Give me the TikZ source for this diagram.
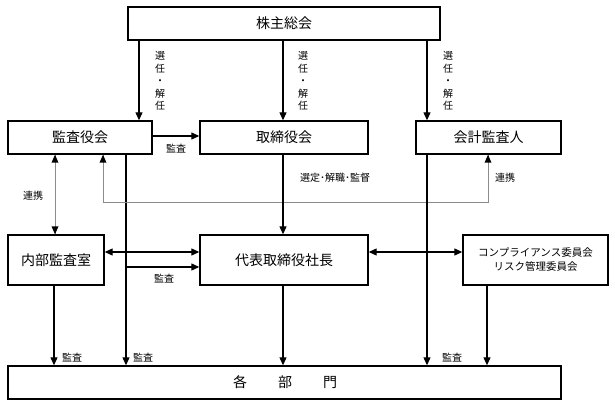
\documentclass[tikz,border=0pt]{standalone}
\usepackage{fontspec}
\setmainfont{Noto Sans CJK JP}
\usetikzlibrary{arrows.meta}
\begin{document}
\begin{tikzpicture}[x=1pt,y=-1pt,
  box/.style={draw,line width=1.4pt,inner sep=0pt,font=\fontsize{14}{16}\selectfont},
  ln/.style={line width=1.2pt},
  arr/.style={ln,-{Triangle[length=8pt,width=7pt]}},
  darr/.style={ln,{Triangle[length=8pt,width=7pt]}-{Triangle[length=8pt,width=7pt]}},
  glink/.style={line width=0.8pt,draw=black!45},
  lbl/.style={font=\fontsize{10}{12.5}\selectfont,inner sep=0pt,align=center}]
\useasboundingbox (0,0) rectangle (615,406);
% boxes
\node[box,minimum width=312pt,minimum height=33pt] (top) at (284,23.5) {株主総会};
\node[box,minimum width=144pt,minimum height=33pt] (kansa) at (80,137.5) {監査役会};
\node[box,minimum width=168pt,minimum height=33pt] (tori) at (284,137.5) {取締役会};
\node[box,minimum width=145pt,minimum height=33pt] (kaikei) at (488.5,137.5) {会計監査人};
\node[box,minimum width=96pt,minimum height=50pt] (naibu) at (56,260) {内部監査室};
\node[box,minimum width=168pt,minimum height=50pt] (ceo) at (284,260) {代表取締役社長};
\node[box,minimum width=145pt,minimum height=50pt,align=center,font=\fontsize{10.5}{14}\selectfont] (comp) at (535.5,260) {コンプライアンス委員会\\リスク管理委員会};
\node[box,minimum width=553pt,minimum height=33pt] (depts) at (284.5,382.5) {};
\node[inner sep=0pt,font=\fontsize{14}{16}\selectfont] (d1) at (240,382.5) {各};
\node[inner sep=0pt,font=\fontsize{14}{16}\selectfont] (d2) at (285,382.5) {部};
\node[inner sep=0pt,font=\fontsize{14}{16}\selectfont] (d3) at (330,382.5) {門};
% top arrows
\draw[arr] (top.south -| 139,0) -- (kansa.north -| 139,0);
\draw[arr] (top.south -| 283,0) -- (tori.north -| 283,0);
\draw[arr] (top.south -| 427,0) -- (kaikei.north -| 427,0);
\node[lbl] (s1) at (160,81) {選\\任\\・\\解\\任};
\node[lbl] (s2) at (303,81) {選\\任\\・\\解\\任};
\node[lbl] (s3) at (448,81) {選\\任\\・\\解\\任};
% kansa -> tori
\draw[arr] (kansa.east |- 0,136) -- (tori.west |- 0,136);
\node[lbl] (l1) at (176,149) {監査};
% kansa down
\draw[arr] (kansa.south -| 126,0) -- (depts.north -| 126,0);
\coordinate (br) at (126,267);
\draw[arr] (br) -- (ceo.west |- br);
\node[lbl] (l2) at (164,279) {監査};
\node[lbl] (l3) at (143,358) {監査};
% links
\draw[glink] (kansa.south -| 55,0) -- (naibu.north -| 55,0);
\fill (kansa.south -| 55,0) -- ++(-3.5,8) -- ++(7,0) -- cycle;
\fill (naibu.north -| 55,0) -- ++(-3.5,-8) -- ++(7,0) -- cycle;
\node[lbl] (c1) at (33,196) {連携};
\coordinate (g1) at (103,202);
\coordinate (g2) at (488,202);
\draw[glink] (kansa.south -| g1) -- (g1) -- (g2) -- (kaikei.south -| g2);
\fill (kansa.south -| g1) -- ++(-3.5,8) -- ++(7,0) -- cycle;
\fill (kaikei.south -| g2) -- ++(-3.5,8) -- ++(7,0) -- cycle;
\node[lbl] (c2) at (505,178) {連携};
% naibu
\draw[darr] (naibu.east |- 0,252) -- (ceo.west |- 0,252);
\draw[arr] (naibu.south -| 54,0) -- (depts.north -| 54,0);
\node[lbl] (l4) at (72,358) {監査};
% tori -> ceo
\draw[arr] (tori.south -| 283,0) -- (ceo.north -| 283,0);
\node[lbl] (l5) at (335,178) {選定･解職･監督};
\draw[arr] (ceo.south -| 283,0) -- (depts.north -| 283,0);
\draw[darr] (ceo.east |- 0,252) -- (comp.west |- 0,252);
% kaikei / comp
\draw[arr] (kaikei.south -| 427,0) -- (depts.north -| 427,0);
\node[lbl] (l6) at (452,358) {監査};
\draw[arr] (comp.south -| 487,0) -- (depts.north -| 487,0);
\end{tikzpicture}
\end{document}
